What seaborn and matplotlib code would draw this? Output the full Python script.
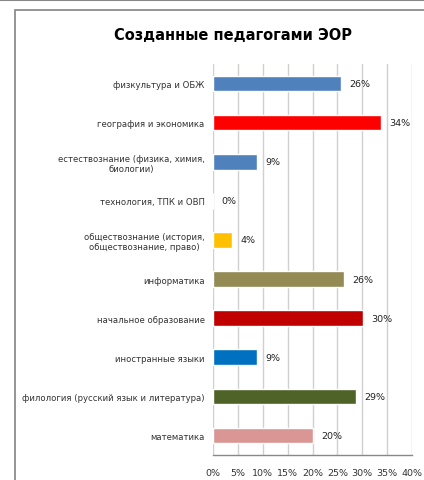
import matplotlib
matplotlib.use("Agg")
import matplotlib.pyplot as plt
import seaborn as sns
import pandas as pd
import numpy as np
from matplotlib.patches import Rectangle
from matplotlib.lines import Line2D

categories = [
    "физкультура и ОБЖ",
    "география и экономика",
    "естествознание (физика, химия,\nбиологии)",
    "технология, ТПК и ОВП",
    "обществознание (история,\nобществознание, право)",
    "информатика",
    "начальное образование",
    "иностранные языки",
    "филология (русский язык и литература)",
    "математика",
]
values = [25.7, 33.7, 8.9, 0.0, 3.8, 26.4, 30.1, 8.8, 28.7, 20.0]
colors = ["#4F81BD", "#FF0000", "#4F81BD", "#4F81BD", "#FFC000",
          "#948A54", "#C00000", "#0070C0", "#4F6228", "#D99694"]
xticks = [0, 5, 10, 15, 20, 25, 30, 35, 40]
title = "Созданные педагогами ЭОР"

df = pd.DataFrame({"cat": categories, "val": values})

sns.set_style("white")
plt.rcParams["font.family"] = ["DejaVu Sans"]
lab_fs = 6.1
title_fs = 10.5

fig = plt.figure(figsize=(4.24, 4.81), dpi=100)
ax = fig.add_axes([213 / 424, 1 - 456 / 481, (412 - 213) / 424, (456 - 65) / 481])

sns.barplot(data=df, x="val", y="cat", hue="cat", palette=colors, legend=False,
            orient="h", width=0.4, ax=ax, saturation=1)

ax.set_xlim(0, 40)
ax.set_ylim(len(categories) - 0.5, -0.5)
ax.set_xticks(xticks)
ax.set_xticklabels([f"{t}%" for t in xticks], fontsize=6.8, color="#333333")
ax.set_xlabel("")
ax.set_ylabel("")
ax.tick_params(axis="x", length=0, pad=9)
ax.tick_params(axis="y", which="major", length=0, pad=6, labelsize=lab_fs, labelcolor="#333333")
for lab in ax.get_yticklabels():
    lab.set_multialignment("center")
ax.set_yticks(np.arange(-0.5, len(categories), 1), minor=True)
ax.tick_params(axis="y", which="minor", length=4, color="#999999", width=0.8)

ax.grid(axis="x", color="#D0D0D0", linewidth=1)
ax.set_axisbelow(True)
for s in ["top", "right", "left"]:
    ax.spines[s].set_visible(False)
ax.spines["bottom"].set_color("#888888")
ax.spines["bottom"].set_linewidth(1)

for cont in ax.containers:
    ax.bar_label(cont, labels=[f"{v:.0f}%" for v in cont.datavalues],
                 padding=6, fontsize=6.8, color="#222222")

fig.text(233 / 424, 1 - 35 / 481, title, ha="center", va="center",
         fontsize=title_fs, fontweight="bold", color="black")

fig.add_artist(Line2D([0, 1], [1 - 1 / 481, 1 - 1 / 481], transform=fig.transFigure,
                      color="#888888", linewidth=1.5))
fig.add_artist(Rectangle((14.5 / 424, -0.05), 1.2, 1 - 10.5 / 481 + 0.05,
                         transform=fig.transFigure, fill=False,
                         edgecolor="#8C8C8C", linewidth=1.3))

fig.savefig("out.png", dpi=100)
